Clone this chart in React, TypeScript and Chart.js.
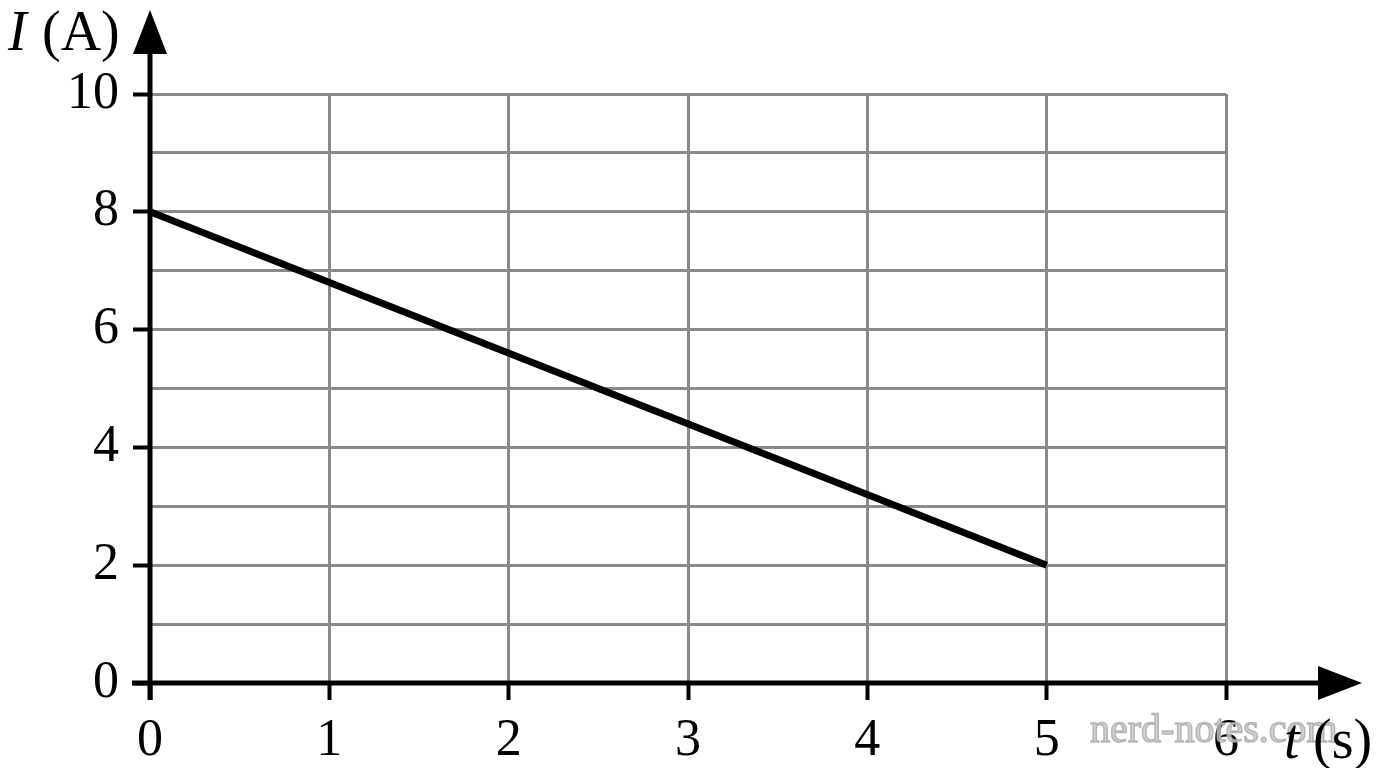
import { useEffect, useRef } from "react"
import { Chart, registerables } from "chart.js"

Chart.register(...registerables)

// t (s) and I (A): straight line from (0, 8) to (5, 2)
const times = [0, 5]
const currents = [8, 2]

const xTicks = [0, 1, 2, 3, 4, 5, 6]
const yTicks = [0, 1, 2, 3, 4, 5, 6, 7, 8, 9, 10]
const yLabelled = [0, 2, 4, 6, 8, 10]

const SERIF = "'Liberation Serif', 'DejaVu Serif', serif"
const GRID = "#8a8a8a"

const axesPlugin = {
  id: "physicsAxes",
  afterDraw(chart: Chart) {
    const { ctx } = chart
    const x = chart.scales.x
    const y = chart.scales.y
    const x0 = x.getPixelForValue(0)
    const y0 = y.getPixelForValue(0)

    ctx.save()
    ctx.strokeStyle = "#000"
    ctx.fillStyle = "#000"
    ctx.lineWidth = 5

    // axis lines
    ctx.beginPath()
    ctx.moveTo(x0 - 18, y0)
    ctx.lineTo(1330, y0)
    ctx.moveTo(x0, y0 + 17)
    ctx.lineTo(x0, 45)
    ctx.stroke()

    // arrow heads
    ctx.beginPath()
    ctx.moveTo(x0, 10)
    ctx.lineTo(x0 - 17, 54)
    ctx.lineTo(x0 + 17, 54)
    ctx.closePath()
    ctx.fill()

    ctx.beginPath()
    ctx.moveTo(1362, y0)
    ctx.lineTo(1318, y0 - 17)
    ctx.lineTo(1318, y0 + 17)
    ctx.closePath()
    ctx.fill()

    // axis titles
    ctx.textBaseline = "alphabetic"
    ctx.textAlign = "left"
    ctx.font = `italic 56px ${SERIF}`
    ctx.fillText("I", 8, 50)
    ctx.font = `56px ${SERIF}`
    ctx.fillText("(A)", 42, 50)

    // watermark sits under the t (s) title
    ctx.font = `40px ${SERIF}`
    ctx.lineWidth = 1.5
    ctx.strokeStyle = "rgba(170,170,170,0.8)"
    ctx.fillStyle = "rgba(200,200,200,0.8)"
    ctx.fillText("nerd-notes.com", 1090, 742)
    ctx.strokeText("nerd-notes.com", 1090, 742)

    ctx.fillStyle = "#000"
    ctx.font = `italic 56px ${SERIF}`
    ctx.fillText("t", 1284, 758)
    ctx.font = `56px ${SERIF}`
    ctx.fillText("(s)", 1313, 758)
    ctx.restore()
  },
}

export default function App() {
  const canvasRef = useRef<HTMLCanvasElement>(null)

  useEffect(() => {
    if (!canvasRef.current) return
    const chart = new Chart(canvasRef.current, {
      type: "line",
      data: {
        datasets: [
          {
            data: times.map((t, i) => ({ x: t, y: currents[i] })),
            borderColor: "#000",
            borderWidth: 7,
            pointRadius: 0,
            fill: false,
          },
        ],
      },
      options: {
        animation: false,
        responsive: true,
        maintainAspectRatio: false,
        layout: { padding: { left: 0, top: 94, right: 150, bottom: 0 } },
        plugins: { legend: { display: false }, tooltip: { enabled: false } },
        scales: {
          x: {
            type: "linear",
            min: xTicks[0],
            max: xTicks[xTicks.length - 1],
            afterFit: (scale: any) => {
              scale.height = 85
            },
            afterBuildTicks: (scale: any) => {
              scale.ticks = xTicks.map((v) => ({ value: v }))
            },
            border: { display: false },
            grid: {
              color: (c: any) => (c.tick && c.tick.value === 0 ? "transparent" : GRID),
              lineWidth: 3,
              tickLength: 17,
              tickColor: "#000",
              tickWidth: 4,
            },
            ticks: {
              color: "#000",
              padding: 10,
              autoSkip: false,
              font: { family: SERIF, size: 52 },
            },
          },
          y: {
            type: "linear",
            min: yTicks[0],
            max: yTicks[yTicks.length - 1],
            afterFit: (scale: any) => {
              scale.width = 150
            },
            afterBuildTicks: (scale: any) => {
              scale.ticks = yTicks.map((v) => ({ value: v }))
            },
            border: { display: false },
            grid: {
              color: (c: any) => (c.tick && c.tick.value === 0 ? "transparent" : GRID),
              lineWidth: 3,
              tickLength: 17,
              tickColor: (c: any) =>
                c.tick && yLabelled.includes(c.tick.value) ? "#000" : "transparent",
              tickWidth: 4,
            },
            ticks: {
              color: "#000",
              padding: 14,
              autoSkip: false,
              font: { family: SERIF, size: 52 },
              callback: (v: any) => (yLabelled.includes(Number(v)) ? String(v) : ""),
            },
          },
        },
      },
      plugins: [axesPlugin],
    })
    return () => chart.destroy()
  }, [])

  return (
    <div style={{ position: "absolute", left: 0, top: 0, width: 1376, height: 768, background: "#fff" }}>
      <canvas ref={canvasRef} />
    </div>
  )
}
